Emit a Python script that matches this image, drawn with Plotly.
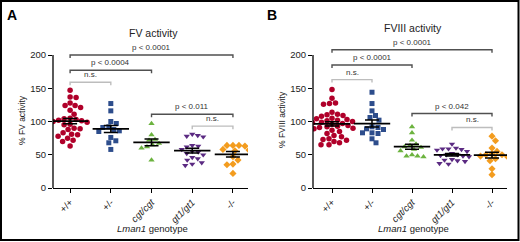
import numpy as np
import plotly.graph_objects as go

W, H = 520, 242

# ---------------- data ----------------
tick_labels = ["+/+", "+/-", "<i>cgt/cgt</i>", "<i>gt1/gt1</i>", "-/-"]
group_colors = ["#b0002a", "#2d4d8c", "#6cb33f", "#5b2a82", "#f39c1e"]
group_symbols = ["circle", "square", "triangle-up", "triangle-down", "diamond"]

fv_wt = [147, 137, 136, 128, 124, 124, 121, 117, 111, 105, 104, 103, 102, 101, 100,
         99, 98, 96, 95, 90, 89, 88, 83, 81, 80, 78, 75, 72, 70, 63]
fv_het = [127, 116, 100, 97, 92, 91, 88, 86, 85, 76, 71, 68, 58]
fv_cgt = [97, 80, 73, 72, 67, 65, 62, 60, 42]
fv_gt1 = [81, 79, 78, 77, 64, 63, 62, 58, 55, 54, 52, 50, 46, 44, 42, 38, 36, 34]
fv_ko = [64, 64, 64, 63, 58, 57, 56, 47, 42, 36, 35, 22]

f8_wt = [148, 135, 128, 127, 126, 114, 111, 110, 109, 108, 105, 104, 103, 102, 101,
         100, 99, 98, 97, 96, 95, 94, 93, 92, 91, 90, 89, 87, 85, 82, 79, 77, 74,
         73, 72, 70, 68, 65, 65]
f8_het = [144, 127, 116, 109, 106, 102, 92, 91, 89, 88, 83, 83, 82, 74, 68]
f8_cgt = [92, 83, 72, 66, 64, 62, 61, 58, 56, 50, 48, 48, 47]
f8_gt1 = [66, 60, 59, 59, 58, 57, 55, 52, 50, 50, 49, 48, 47, 43, 42, 41, 40, 37, 36]
f8_ko = [78, 71, 60, 55, 51, 50, 50, 48, 47, 44, 41, 29, 20]

fv_groups = [fv_wt, fv_het, fv_cgt, fv_gt1, fv_ko]
f8_groups = [f8_wt, f8_het, f8_cgt, f8_gt1, f8_ko]

# significance brackets: (from group, to group, level, label, is_ns)
fv_brackets = [(0, 4, 200, "p < 0.0001", False), (0, 2, 177, "p < 0.0004", False),
               (0, 1, 159, "n.s.", True), (2, 4, 111, "p < 0.011", False),
               (3, 4, 93, "n.s.", True)]
f8_brackets = [(0, 4, 208, "p < 0.0001", False), (0, 2, 185, "p < 0.0001", False),
               (0, 1, 163, "n.s.", True), (2, 4, 112, "p < 0.042", False),
               (3, 4, 91, "n.s.", True)]

panel_titles = ["FV activity", "FVIII activity"]
y_titles = ["% FV activity", "% FVIII activity"]
panel_letters = ["A", "B"]

FONT = "Liberation Sans, Arial, sans-serif"

# ---------------- layout geometry (pixels) ----------------
Y0_PX, Y200_PX = 188, 55
YTOP = 215
ypx_per_unit = (Y0_PX - Y200_PX) / 200.0
ytop_px = Y0_PX - YTOP * ypx_per_unit
panels = [
    dict(x0=53, x1=248, xr=[-0.42, 4.37], title_xy=(153, 33), ytitle_x=22, xtitle_x=152, letter_x=12),
    dict(x0=313, x1=507, xr=[-0.475, 4.375], title_xy=(413, 28), ytitle_x=282, xtitle_x=413, letter_x=272),
]


def swarm(values, xs, ys, diam=5.6):
    vals = np.array(values, dtype=float)
    order = np.argsort(-vals, kind="stable")
    placed = []
    offs = np.zeros(len(vals))
    cands = [0.0]
    for k in range(1, 80):
        cands += [k * 0.5, -k * 0.5]
    for idx in order:
        y = vals[idx] * ys
        for c in cands:
            if all((c - px) ** 2 + (y - py) ** 2 >= diam ** 2 for px, py in placed):
                break
        placed.append((c, y))
        offs[idx] = c / xs
    return offs


fig = go.Figure()
shapes = []
annotations = []

for p, (groups, brackets) in enumerate([(fv_groups, fv_brackets), (f8_groups, f8_brackets)]):
    geo = panels[p]
    xa = "x" if p == 0 else "x2"
    ya = "y" if p == 0 else "y2"
    xs = (geo["x1"] - geo["x0"]) / (geo["xr"][1] - geo["xr"][0])
    for i, vals in enumerate(groups):
        offs = swarm(vals, xs, ypx_per_unit)
        fig.add_trace(go.Scatter(
            x=i + offs, y=vals, mode="markers", xaxis=xa, yaxis=ya,
            marker=dict(symbol=group_symbols[i], color=group_colors[i],
                        size=5.5 if group_symbols[i] != "square" else 5, line=dict(width=0)),
            showlegend=False, hoverinfo="skip"))
    for i, vals in enumerate(groups):
        arr = np.array(vals, dtype=float)
        m = arr.mean()
        sem = arr.std(ddof=1) / np.sqrt(len(arr))
        fig.add_trace(go.Scatter(
            x=[i], y=[m], mode="markers", xaxis=xa, yaxis=ya,
            marker=dict(symbol="line-ew", size=26, color="black",
                        line=dict(width=1.8, color="black")),
            error_y=dict(type="data", array=[sem], width=7, thickness=1.5, color="black"),
            showlegend=False, hoverinfo="skip"))
    tick = 3.0 / ypx_per_unit
    for (a, b, lev, lab, ns) in brackets:
        col = "#bdbdbd" if ns else "#505050"
        fig.add_trace(go.Scatter(
            x=[a, a, b, b], y=[lev - tick, lev, lev, lev - tick], mode="lines",
            xaxis=xa, yaxis=ya, line=dict(color=col, width=1.4),
            showlegend=False, hoverinfo="skip"))
        annotations.append(dict(x=(a + b) / 2, y=lev, xref=xa, yref=ya, text=lab,
                                showarrow=False, xanchor="center", yanchor="bottom", yshift=1,
                                font=dict(size=8, color="#333333", family=FONT)))
    # y axis line up to 200
    shapes.append(dict(type="line", xref=f"{xa} domain", yref=ya, x0=0, x1=0, y0=0, y1=200,
                       line=dict(color="black", width=1.3)))
    # titles / labels
    tx, ty = geo["title_xy"]
    annotations.append(dict(x=tx / W, y=1 - ty / H, xref="paper", yref="paper",
                            text=panel_titles[p], showarrow=False,
                            xanchor="center", yanchor="middle",
                            font=dict(size=10.5, color="#222222", family=FONT)))
    annotations.append(dict(x=geo["ytitle_x"] / W, y=1 - 120 / H, xref="paper", yref="paper",
                            text=y_titles[p], showarrow=False, textangle=-90,
                            xanchor="center", yanchor="middle",
                            font=dict(size=8.5, color="#222222", family=FONT)))
    annotations.append(dict(x=geo["xtitle_x"] / W, y=1 - 228 / H, xref="paper", yref="paper",
                            text="<i>Lman1</i> genotype", showarrow=False,
                            xanchor="center", yanchor="middle",
                            font=dict(size=9.5, color="#222222", family=FONT)))
    annotations.append(dict(x=geo["letter_x"] / W, y=1 - 15 / H, xref="paper", yref="paper",
                            text="<b>" + panel_letters[p] + "</b>", showarrow=False,
                            xanchor="center", yanchor="middle",
                            font=dict(size=14, color="black", family=FONT)))

# frame around the figure
shapes.append(dict(type="rect", xref="paper", yref="paper", x0=1 / W, x1=1 - 1.5 / W,
                   y0=2 / H, y1=1 - 1 / H, line=dict(color="black", width=2)))

ydom = [1 - Y0_PX / H, 1 - ytop_px / H]


def xaxis_cfg(geo, anchor):
    return dict(domain=[geo["x0"] / W, geo["x1"] / W], range=geo["xr"], anchor=anchor,
                tickmode="array", tickvals=list(range(5)), ticktext=tick_labels,
                tickangle=-45, ticks="outside", ticklen=4, tickwidth=1.2, tickcolor="black",
                showline=True, linecolor="black", linewidth=1.3, showgrid=False,
                zeroline=False, automargin=False,
                tickfont=dict(size=9.5, color="#222222", family=FONT))


def yaxis_cfg(anchor):
    return dict(domain=ydom, range=[0, YTOP], anchor=anchor, tickmode="array",
                tickvals=[0, 50, 100, 150, 200], ticks="outside", ticklen=4, tickwidth=1.2,
                tickcolor="black", showline=False, showgrid=False, zeroline=False,
                automargin=False, tickfont=dict(size=9.5, color="#222222", family=FONT))


fig.update_layout(
    width=W, height=H, autosize=False,
    margin=dict(l=0, r=0, t=0, b=0, pad=0),
    paper_bgcolor="white", plot_bgcolor="white",
    font=dict(family=FONT),
    xaxis=xaxis_cfg(panels[0], "y"), yaxis=yaxis_cfg("x"),
    xaxis2=xaxis_cfg(panels[1], "y2"), yaxis2=yaxis_cfg("x2"),
    shapes=shapes, annotations=annotations, showlegend=False,
)

fig.write_html("out.html", config={"displayModeBar": False},
               post_script="document.body.style.margin='0';document.body.style.padding='0';")
